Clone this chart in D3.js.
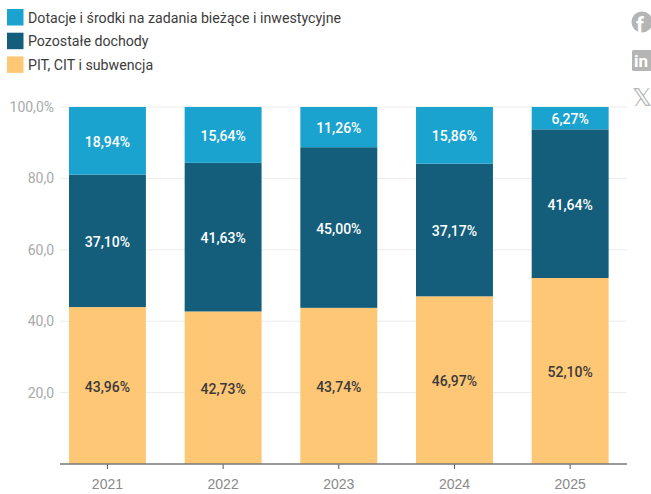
<!DOCTYPE html>
<html>
<head>
<meta charset="utf-8">
<script src="https://cdn.jsdelivr.net/npm/d3@7"></script>
<style>
  html, body { margin: 0; padding: 0; background: #fff; }
  svg { display: block; font-family: Roboto, sans-serif; }
</style>
</head>
<body>
<svg id="chart" width="651" height="494"></svg>
<script>
const years = ['2021', '2022', '2023', '2024', '2025'];
const pit = [43.96, 42.73, 43.74, 46.97, 52.10];
const pozostale = [37.10, 41.63, 45.00, 37.17, 41.64];
const dotacje = [18.94, 15.64, 11.26, 15.86, 6.27];
const yTicks = [20, 40, 60, 80, 100];
const seriesNames = ['PIT, CIT i subwencja', 'Pozostałe dochody', 'Dotacje i środki na zadania bieżące i inwestycyjne'];

const colors = ['#fec776', '#145e7b', '#1ba3d0'];
const labelColors = ['#3a3a3a', '#ffffff', '#ffffff'];
const series = [pit, pozostale, dotacje];

const svg = d3.select('#chart');

const plot = { left: 60, right: 627, top: 107, bottom: 464 };

const x = d3.scaleBand()
  .domain(years)
  .range([49.6, 628])
  .paddingInner(0.335)
  .paddingOuter(0.1675);

const y = d3.scaleLinear()
  .domain([0, 100])
  .range([plot.bottom, plot.top]);

// Gridlines sit behind the bars
svg.append('g')
  .selectAll('line')
  .data(yTicks)
  .join('line')
  .attr('x1', plot.left)
  .attr('x2', plot.right)
  .attr('y1', d => y(d))
  .attr('y2', d => y(d))
  .attr('stroke', '#ececec');

// y labels, only the top one carries the percent sign
svg.append('g')
  .selectAll('text')
  .data(yTicks)
  .join('text')
  .attr('x', 54)
  .attr('y', d => y(d) + 5)
  .attr('text-anchor', 'end')
  .attr('font-size', 14)
  .attr('fill', '#aaaaaa')
  .text(d => d === 100 ? '100,0%' : d + ',0');

// Stack the three series
const rows = years.map((year, i) => {
  let base = 0;
  return series.map((s, k) => {
    const seg = { year, k, value: s[i], y0: base, y1: base + s[i] };
    base += s[i];
    return seg;
  });
});

const columns = svg.append('g')
  .selectAll('g')
  .data(rows)
  .join('g');

columns.selectAll('rect')
  .data(d => d)
  .join('rect')
  .attr('x', d => x(d.year))
  .attr('width', x.bandwidth())
  .attr('y', d => y(d.y1))
  .attr('height', d => y(d.y0) - y(d.y1))
  .attr('fill', d => colors[d.k]);

columns.selectAll('text')
  .data(d => d)
  .join('text')
  .attr('x', d => x(d.year) + x.bandwidth() / 2)
  .attr('y', d => y((d.y0 + d.y1) / 2) + 6)
  .attr('text-anchor', 'middle')
  .attr('font-size', 14)
  .attr('font-weight', 500)
  .attr('fill', d => labelColors[d.k])
  .text(d => d.value.toFixed(2).replace('.', ',') + '%');

// x axis
const xAxisG = svg.append('g')
  .attr('transform', `translate(0,${plot.bottom})`)
  .call(d3.axisBottom(x).tickSize(5).tickSizeOuter(0));
xAxisG.select('.domain').remove();
xAxisG.selectAll('.tick line').attr('stroke', '#555');
xAxisG.selectAll('.tick text')
  .attr('fill', '#8a8a8a')
  .attr('y', 25)
  .attr('dy', 0)
  .style('font-size', '14px');
svg.append('line')
  .attr('x1', plot.left)
  .attr('x2', plot.right)
  .attr('y1', plot.bottom)
  .attr('y2', plot.bottom)
  .attr('stroke', '#777')
  .attr('stroke-width', 1.5);

// Legend, top entry is the top of the stack
const legend = svg.append('g')
  .selectAll('g')
  .data([2, 1, 0])
  .join('g')
  .attr('transform', (d, i) => `translate(7,${9 + i * 23.7})`);
legend.append('rect')
  .attr('width', 16.5)
  .attr('height', 16.5)
  .attr('fill', d => colors[d]);
legend.append('text')
  .attr('x', 21)
  .attr('y', 13.5)
  .attr('font-size', 14.2)
  .attr('fill', '#3c3c3c')
  .text(d => seriesNames[d]);

// Share icons, cut off by the right edge
const icons = svg.append('g').attr('fill', '#b5b5b5');
icons.append('circle').attr('cx', 642).attr('cy', 22).attr('r', 10.5);
icons.append('text').attr('x', 636).attr('y', 33).attr('font-size', 22).attr('font-weight', 700).attr('fill', '#fff').text('f');
icons.append('rect').attr('x', 632).attr('y', 50).attr('width', 22).attr('height', 21).attr('rx', 1.5);
icons.append('text').attr('x', 634).attr('y', 67).attr('font-size', 17).attr('font-weight', 700).attr('fill', '#fff').text('in');
icons.append('text').attr('x', 632).attr('y', 106).attr('font-size', 25).attr('font-family', 'DejaVu Sans').attr('fill', '#b5b5b5').text('𝕏');
</script>
</body>
</html>
